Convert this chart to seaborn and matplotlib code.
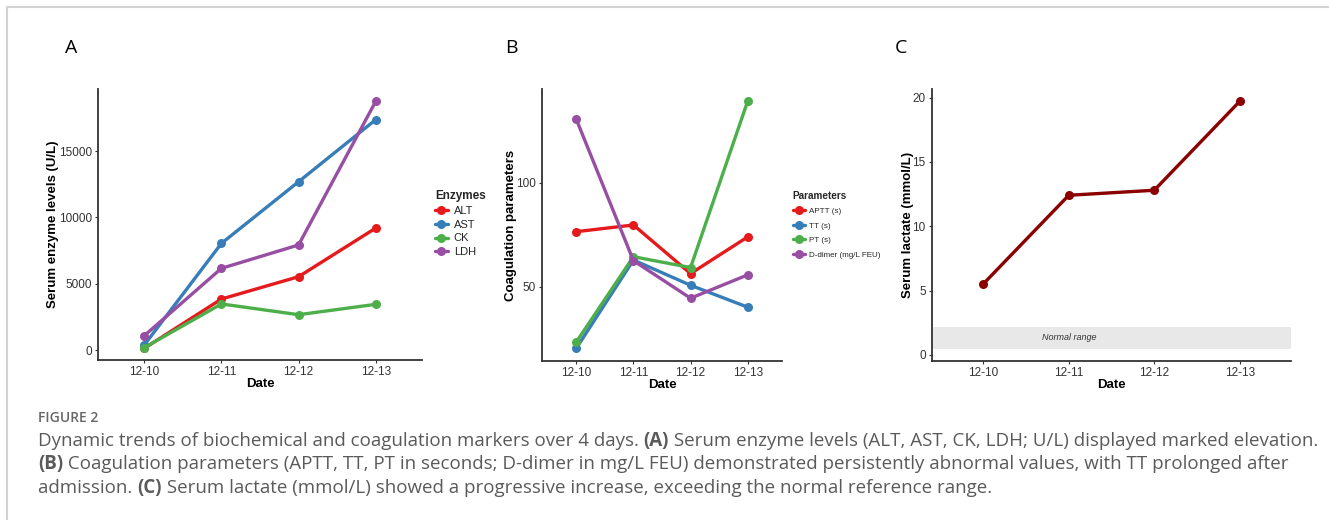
import numpy as np
import pandas as pd
import matplotlib
matplotlib.use("Agg")
import matplotlib.pyplot as plt
import seaborn as sns
from matplotlib.lines import Line2D

# ---------------- data ----------------
dates = ["12-10", "12-11", "12-12", "12-13"]

enzymes = ["ALT", "AST", "CK", "LDH"]
alt = [150, 3860, 5540, 9200]
ast = [400, 8050, 12690, 17360]
ck = [200, 3490, 2680, 3460]
ldh = [1100, 6170, 7930, 18740]

params = ["APTT (s)", "TT (s)", "PT (s)", "D-dimer (mg/L FEU)"]
aptt = [76.5, 79.7, 56.4, 74.0]
tt = [20.6, 62.9, 50.8, 40.3]
pt = [23.6, 64.5, 59.3, 139.1]
ddimer = [130.4, 62.6, 44.6, 55.8]

lactate = [5.52, 12.41, 12.80, 19.71]
normal_low, normal_high = 0.5, 2.2

yticks_a = [0, 5000, 10000, 15000]
yticks_b = [50, 100]
yticks_c = [0, 5, 10, 15, 20]

palette4 = ["#E41A1C", "#377EB8", "#4DAF4A", "#984EA3"]
lactate_color = "#8B0000"


def long_df(names, series, label):
    rows = []
    for name, vals in zip(names, series):
        for i, v in enumerate(vals):
            rows.append({"idx": i, "Date": dates[i], "value": v, label: name})
    return pd.DataFrame(rows)


df_a = long_df(enzymes, [alt, ast, ck, ldh], "Enzymes")
df_b = long_df(params, [aptt, tt, pt, ddimer], "Parameters")
df_c = pd.DataFrame({"idx": range(len(dates)), "Date": dates, "value": lactate})

# ---------------- style ----------------
sns.set_theme(style="ticks")
plt.rcParams["font.family"] = ["Liberation Sans", "DejaVu Sans"]

W, H = 1329, 520
fig = plt.figure(figsize=(W / 100, H / 100), dpi=100)
fig.patch.set_facecolor("white")


def fig_axes(left, top, right, bottom):
    return fig.add_axes([left / W, 1 - bottom / H, (right - left) / W, (bottom - top) / H])


def style_ax(ax, ylabel, yticks, ylim, left, right, ylabel_right_px):
    ax.set_xlim(-0.6, 3.6)
    ax.set_ylim(*ylim)
    ax.set_xticks(range(len(dates)))
    ax.set_xticklabels(dates)
    ax.set_yticks(yticks)
    ax.set_xlabel("Date", fontweight="bold", fontsize=9.5, color="black", labelpad=0)
    ax.set_ylabel(ylabel, fontweight="bold", fontsize=9.5, color="black")
    ax.yaxis.set_label_coords((ylabel_right_px - left) / (right - left), 0.5)
    for s in ["top", "right"]:
        ax.spines[s].set_visible(False)
    for s in ["left", "bottom"]:
        ax.spines[s].set_linewidth(1.3)
        ax.spines[s].set_color("#333333")
    ax.tick_params(length=2.5, width=0.8, color="#333333", labelsize=8.5,
                   labelcolor="#333333", pad=2)
    ax.set_facecolor("white")
    ax.grid(False)


line_kw = dict(linewidth=2.4, marker="o", markersize=6.5, markeredgewidth=0)

# Panel A
ax_a = fig_axes(98, 89, 422, 360)
sns.lineplot(data=df_a, x="idx", y="value", hue="Enzymes", hue_order=enzymes,
             palette=palette4, ax=ax_a, **line_kw)
style_ax(ax_a, "Serum enzyme levels (U/L)", yticks_a, (-730, 19670), 98, 422, 59)
sns.move_legend(ax_a, "upper left", bbox_to_anchor=(427 / W, 1 - 182 / H),
                bbox_transform=fig.transFigure, frameon=False, title="Enzymes",
                fontsize=8, title_fontsize=8.5, handlelength=1.2,
                handletextpad=0.5, labelspacing=0.35, borderpad=0.2)
leg = ax_a.get_legend()
leg.get_title().set_fontweight("bold")
leg._legend_box.align = "left"

# Panel B
ax_b = fig_axes(542, 89, 782, 361)
sns.lineplot(data=df_b, x="idx", y="value", hue="Parameters", hue_order=params,
             palette=palette4, ax=ax_b, **line_kw)
style_ax(ax_b, "Coagulation parameters", yticks_b, (14.5, 144.9), 542, 782, 517)
sns.move_legend(ax_b, "upper left", bbox_to_anchor=(787 / W, 1 - 185 / H),
                bbox_transform=fig.transFigure, frameon=False, title="Parameters",
                fontsize=5.8, title_fontsize=7.2, handlelength=1.5,
                handletextpad=0.5, labelspacing=0.85, borderpad=0.2)
leg = ax_b.get_legend()
leg.get_title().set_fontweight("bold")
leg._legend_box.align = "left"

# Panel C
ax_c = fig_axes(932, 89, 1291, 361)
ax_c.axhspan(normal_low, normal_high, color="#E8E8E8", lw=0, zorder=0)
sns.lineplot(data=df_c, x="idx", y="value", color=lactate_color, ax=ax_c, **line_kw)
style_ax(ax_c, "Serum lactate (mmol/L)", yticks_c, (-0.47, 20.67), 932, 1291, 914)
ax_c.text(1, (normal_low + normal_high) / 2, "Normal range", style="italic",
          fontsize=6.5, color="#333333", ha="center", va="center")

# Panel letters
for lbl, xp in [("A", 71), ("B", 511), ("C", 901)]:
    fig.text(xp / W, 1 - 48 / H, lbl, fontsize=14, family="Open Sans",
             ha="center", va="center", color="black")

# Frame lines
fig.add_artist(Line2D([7 / W, 1], [1 - 7 / H, 1 - 7 / H], transform=fig.transFigure,
                      color="#D3D3D3", lw=1.5))
fig.add_artist(Line2D([7 / W, 7 / W], [0, 1 - 7 / H], transform=fig.transFigure,
                      color="#D3D3D3", lw=1.5))

# Caption
fig.text(38 / W, 1 - 418 / H, "FIGURE 2", fontsize=10, family="Open Sans",
         fontweight="semibold", color="#666666", ha="left", va="center")

renderer = fig.canvas.get_renderer()
cap_color = "#5A5A5A"
cap_size = 13.5


def rich_line(y_px, parts):
    x = 38
    for txt, bold in parts:
        t = fig.text(x / W, 1 - y_px / H, txt, fontsize=cap_size, family="Open Sans",
                     fontweight="bold" if bold else "normal", color=cap_color,
                     ha="left", va="center")
        bb = t.get_window_extent(renderer=renderer)
        x += bb.width


rich_line(441, [("Dynamic trends of biochemical and coagulation markers over 4 days. ", False),
                ("(A)", True),
                (" Serum enzyme levels (ALT, AST, CK, LDH; U/L) displayed marked elevation.", False)])
rich_line(464, [("(B)", True),
                (" Coagulation parameters (APTT, TT, PT in seconds; D-dimer in mg/L FEU) demonstrated persistently abnormal values, with TT prolonged after", False)])
rich_line(488, [("admission. ", False), ("(C)", True),
                (" Serum lactate (mmol/L) showed a progressive increase, exceeding the normal reference range.", False)])

fig.savefig("out.png", dpi=100)
